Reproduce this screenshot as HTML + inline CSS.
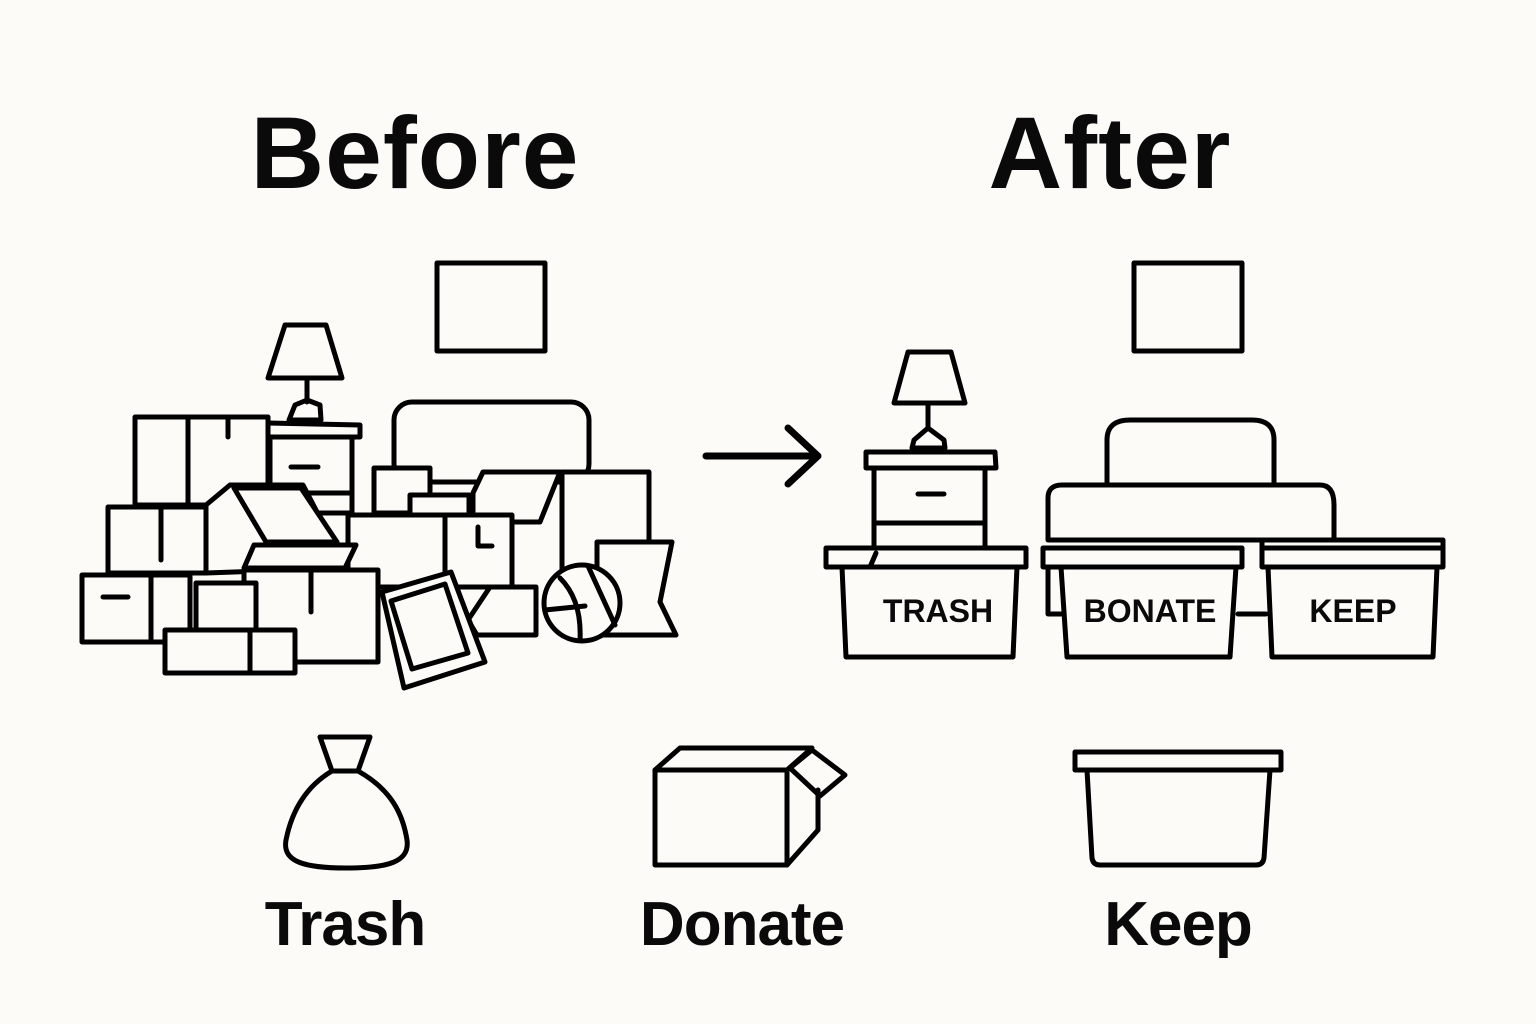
<!DOCTYPE html>
<html><head><meta charset="utf-8"><style>
html,body{margin:0;padding:0;background:#fcfbf8;}
svg{display:block}
text{font-family:"Liberation Sans",sans-serif;font-weight:bold;fill:#0a0a0a}
</style></head><body>
<svg width="1536" height="1024" viewBox="0 0 1536 1024" xmlns="http://www.w3.org/2000/svg">
<rect width="1536" height="1024" fill="#fcfbf8"/>
<text x="415" y="188" font-size="102" text-anchor="middle" letter-spacing="1">Before</text>
<text x="1110" y="188" font-size="102" text-anchor="middle" letter-spacing="1">After</text>
<g fill="none" stroke="#000" stroke-width="5" stroke-linejoin="round" stroke-linecap="round">
<rect x="437" y="263" width="108" height="88"/>
<rect x="1134" y="263" width="108" height="88"/>
<path d="M285 325 L326 325 L342 378 L268 378 Z"/>
<path d="M307 378 L307 402 M295 405 L307 400 L320 405 L321 420 L289 420 Z"/>
<path d="M268 423 L360 425 L360 437 L268 437 Z"/>
<rect x="394" y="402" width="195" height="80" rx="18" fill="#fcfbf8"/>
<rect x="135" y="417" width="133" height="88" fill="#fcfbf8"/>
<path d="M188 417 L188 505 M228 417 L228 437"/>
<rect x="270" y="437" width="82" height="76" fill="#fcfbf8"/>
<path d="M291 467 L318 467 M270 493 L352 493"/>
<rect x="108" y="507" width="98" height="66" fill="#fcfbf8"/>
<path d="M161 507 L161 560"/>
<path d="M206 505 L230 485 L303 485 L346 568 L206 573 Z" fill="#fcfbf8"/>
<path d="M234 488 L301 488 L337 542 L266 542 Z" fill="#fcfbf8"/>
<rect x="374" y="468" width="56" height="45" fill="#fcfbf8"/>
<rect x="410" y="495" width="59" height="20" fill="#fcfbf8"/>
<path d="M473 493 L483 472 L560 472 L540 522 L473 522 Z" fill="#fcfbf8"/>
<rect x="562" y="472" width="87" height="101" fill="#fcfbf8"/>
<rect x="348" y="515" width="97" height="72" fill="#fcfbf8"/>
<rect x="445" y="515" width="67" height="72" fill="#fcfbf8"/>
<path d="M478 527 L478 546 L492 546"/>
<rect x="244" y="570" width="134" height="92" fill="#fcfbf8"/>
<path d="M311 570 L311 612"/>
<path d="M254 545 L356 545 L345 568 L244 568 Z" fill="#fcfbf8"/>
<rect x="82" y="575" width="108" height="67" fill="#fcfbf8"/>
<path d="M151 575 L151 642 M103 597 L128 597"/>
<rect x="196" y="583" width="60" height="49" fill="#fcfbf8"/>
<rect x="165" y="630" width="130" height="43" fill="#fcfbf8"/>
<path d="M250 630 L250 673"/>
<path d="M490 587 L536 587 L536 635 L477 635 L468 620 Z" fill="#fcfbf8"/>
<path d="M597 542 L672 542 L660 602 L676 635 L597 635 Z" fill="#fcfbf8"/>
<path d="M382 592 L451 572 L485 662 L404 688 Z" fill="#fcfbf8"/>
<path d="M391 601 L445 584 L468 653 L412 669 Z"/>
<circle cx="582" cy="603" r="38" fill="#fcfbf8"/>
<path d="M560 578 Q582 600 580 640 M545 610 L585 606 M588 566 L615 625"/>
<path d="M706 456 L818 456 M788 428 L818 456 L788 484" stroke-width="7"/>
<path d="M908 352 L951 352 L965 403 L894 403 Z"/>
<path d="M928 403 L928 428 M914 440 L928 428 L944 440 L945 448 L912 448 Z"/>
<path d="M866 452 L995 452 L996 468 L866 468 Z"/>
<rect x="874" y="468" width="111" height="80"/>
<path d="M874 523 L985 523 M918 494 L944 494"/>
<path d="M1107 483 L1107 440 Q1107 420 1130 420 L1252 420 Q1274 420 1274 440 L1274 483"/>
<path d="M1048 540 L1048 498 Q1048 485 1062 485 L1320 485 Q1334 485 1334 505 L1334 540 Z"/>
<path d="M1048 552 L1048 614 L1062 614 M1238 614 L1266 614"/>
<path d="M826 548 L1026 548 L1026 567 L826 567 Z" fill="#fcfbf8"/>
<path d="M842 567 L846 657 L1013 657 L1017 567"/>
<path d="M870 567 L876 553"/>
<path d="M1043 548 L1242 548 L1242 567 L1043 567 Z" fill="#fcfbf8"/>
<path d="M1061 567 L1067 657 L1230 657 L1236 567"/>
<path d="M1262 540 L1443 540 L1443 567 L1262 567 Z" fill="#fcfbf8"/>
<path d="M1262 548 L1443 548"/>
<path d="M1268 567 L1272 657 L1433 657 L1437 567"/>
<path d="M320 737 L370 737 L358 771 L332 771 Z"/>
<path d="M332 771 C300 790 290 820 286 840 C282 862 305 868 346 868 C388 868 410 862 407 840 C403 815 392 790 358 771"/>
<path d="M655 770 L680 748 L812 748 L787 770 Z"/>
<rect x="655" y="770" width="132" height="95"/>
<path d="M787 865 L818 830 L818 790"/>
<path d="M790 768 L812 750 L845 775 L820 796 Z"/>
<path d="M1075 752 L1281 752 L1281 770 L1075 770 Z"/>
<path d="M1087 770 L1092 858 Q1093 865 1100 865 L1256 865 Q1263 865 1264 858 L1270 770"/>
</g>
<text x="938" y="622" font-size="32" text-anchor="middle">TRASH</text>
<text x="1150" y="622" font-size="32" text-anchor="middle">BONATE</text>
<text x="1353" y="622" font-size="32" text-anchor="middle">KEEP</text>
<text x="345" y="945" font-size="62" text-anchor="middle" letter-spacing="-1">Trash</text>
<text x="742" y="945" font-size="62" text-anchor="middle" letter-spacing="-1">Donate</text>
<text x="1178" y="945" font-size="62" text-anchor="middle" letter-spacing="-1">Keep</text>
</svg>
</body></html>
